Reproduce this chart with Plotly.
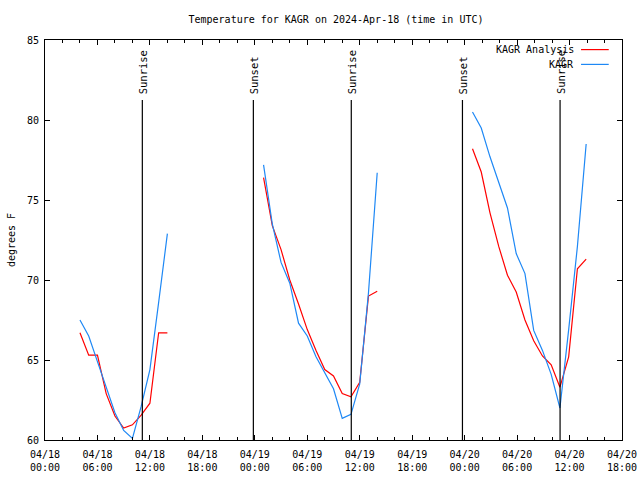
import plotly.graph_objects as go

# ---- data ----
seg1_times = ["2024-04-18 %02d:00" % h for h in range(4, 15)]
obs1 = [67.5, 66.5, 64.9, 63.3, 61.7, 60.6, 60.1, 62.1, 64.4, 68.6, 72.9]
ana1 = [66.7, 65.3, 65.3, 62.9, 61.5, 60.75, 60.95, 61.55, 62.3, 66.7, 66.7]

seg2_times = ["2024-04-19 %02d:00" % h for h in range(1, 15)]
obs2 = [77.2, 73.5, 71.1, 69.8, 67.3, 66.5, 65.2, 64.2, 63.2, 61.35, 61.6, 63.5, 69.2, 76.7]
ana2 = [76.4, 73.4, 71.9, 70.0, 68.5, 66.9, 65.6, 64.4, 64.0, 62.9, 62.7, 63.6, 69.0, 69.3]

seg3_times = ["2024-04-20 %02d:54" % h for h in range(0, 14)]
obs3 = [80.5, 79.5, 77.7, 76.05, 74.5, 71.65, 70.4, 66.85, 65.6, 64.1, 62.0, 66.9, 72.1, 78.5]
ana3 = [78.2, 76.75, 74.2, 72.1, 70.3, 69.25, 67.5, 66.2, 65.25, 64.7, 63.3, 65.2, 70.7, 71.3]

event_times = ["2024-04-18 11:08", "2024-04-18 23:50", "2024-04-19 11:02",
               "2024-04-19 23:45", "2024-04-20 10:55"]
event_labels = ["Sunrise", "Sunset", "Sunrise", "Sunset", "Sunrise"]

series_names = ["KAGR Analysis", "KAGR"]
series_colors = ["#ff0000", "#1e88f5"]

x_range = ["2024-04-18 00:00", "2024-04-20 18:00"]
y_range = [60, 85]
event_top = 81.25

# ---- build ----
times = seg1_times + [None] + seg2_times + [None] + seg3_times
ana = ana1 + [None] + ana2 + [None] + ana3
obs = obs1 + [None] + obs2 + [None] + obs3

FONT = "DejaVu Sans Mono"
fig = go.Figure()
fig.add_trace(go.Scatter(x=times, y=ana, mode="lines", name=series_names[0],
                         line=dict(color=series_colors[0], width=1.2), connectgaps=False,
                         showlegend=False))
fig.add_trace(go.Scatter(x=times, y=obs, mode="lines", name=series_names[1],
                         line=dict(color=series_colors[1], width=1.2), connectgaps=False,
                         showlegend=False))

for t, lab in zip(event_times, event_labels):
    fig.add_shape(type="line", xref="x", yref="y", x0=t, x1=t, y0=y_range[0], y1=event_top,
                  line=dict(color="black", width=1.2))
    fig.add_annotation(x=t, y=event_top, xref="x", yref="y", text=lab, textangle=-90,
                       showarrow=False, yanchor="bottom", xanchor="center", xshift=1, yshift=4,
                       font=dict(family=FONT, size=10.5, color="black"))

# legend (gnuplot style: text then line sample)
leg_y = [0.976, 0.939]
for i, (nm, col) in enumerate(zip(series_names, series_colors)):
    fig.add_annotation(x=0.920, y=leg_y[i], xref="paper", yref="paper", text=nm,
                       showarrow=False, xanchor="right", yanchor="middle",
                       font=dict(family=FONT, size=10, color="black"))
    fig.add_shape(type="line", xref="paper", yref="paper", x0=0.929, x1=0.977,
                  y0=leg_y[i], y1=leg_y[i], line=dict(color=col, width=1.2))

fig.update_layout(
    width=640, height=480,
    margin=dict(l=45, r=18, t=40, b=40, autoexpand=False),
    paper_bgcolor="white", plot_bgcolor="white",
    font=dict(family=FONT, size=10, color="black"),
    title=dict(text="Temperature for KAGR on 2024-Apr-18 (time in UTC)", x=0.525, xanchor="center",
               y=0.96, yanchor="middle", font=dict(family=FONT, size=10, color="black")),
    showlegend=False,
)
fig.update_xaxes(range=x_range, type="date", dtick=6 * 3600 * 1000, tick0="2024-04-18 00:00",
                 tickformat="%m/%d<br>%H:%M", ticks="inside", ticklen=5, tickcolor="black",
                 showline=True, linecolor="black", linewidth=1, mirror="ticks", showgrid=False,
                 zeroline=False, automargin=False, ticklabelstandoff=5,
                 minor=dict(dtick=2 * 3600 * 1000, ticks="inside", ticklen=3, tickcolor="black",
                            showgrid=False),
                 tickfont=dict(family=FONT, size=10, color="black"))
fig.update_yaxes(range=y_range, dtick=5, ticks="inside", ticklen=5, tickcolor="black",
                 showline=True, linecolor="black", linewidth=1, mirror="ticks", showgrid=False,
                 zeroline=False, automargin=False, ticklabelstandoff=3,
                 title=dict(text="degrees F", standoff=9, font=dict(family=FONT, size=10, color="black")),
                 tickfont=dict(family=FONT, size=10, color="black"))

fig.write_html("out.html", config={"displayModeBar": False},
               post_script="document.body.style.margin='0px';")
